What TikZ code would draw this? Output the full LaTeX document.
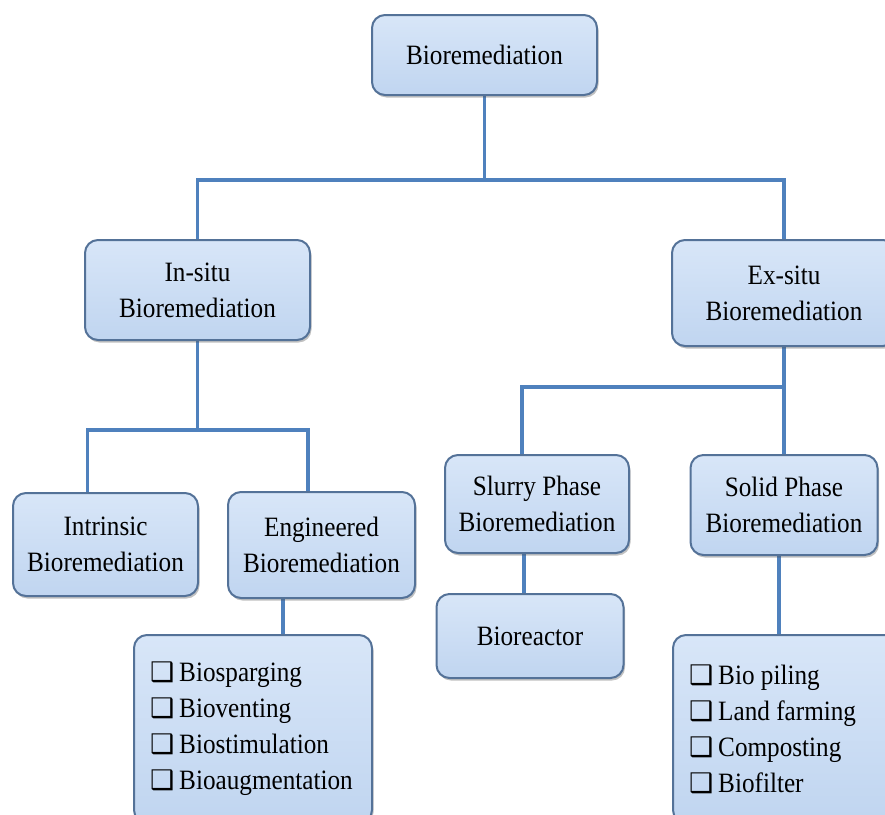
\documentclass[tikz,border=0pt]{standalone}
\usepackage{fontspec}
\setmainfont{Liberation Serif}[FakeStretch=0.9]
\newfontfamily\dingfont{DejaVu Sans}
\usetikzlibrary{positioning,backgrounds,shadows}
\definecolor{boxfill}{RGB}{192,213,240}
\definecolor{boxtop}{RGB}{216,230,248}
\definecolor{boxedge}{RGB}{84,114,152}
\definecolor{connblue}{RGB}{79,129,189}
\newcommand{\tickbox}{{\dingfont\fontsize{27}{36}\selectfont\char"2751}\hspace{5pt}}
\tikzset{
  box/.style={draw=boxedge, line width=2pt, rounded corners=13pt,
              top color=boxtop, bottom color=boxfill, align=center,
              font=\fontsize{28}{36}\selectfont, inner sep=4pt,
              drop shadow={shadow xshift=1.5pt, shadow yshift=-2.5pt,
                           opacity=0.35, fill=black!70}},
  listbox/.style={box, align=flush left, inner xsep=16pt},
  conn/.style={draw=connblue, line width=3.5pt},
}

\begin{document}
\begin{tikzpicture}[x=1pt, y=-1pt]
\useasboundingbox (0,0) rectangle (885,814);
\clip (0,0) rectangle (885,814);

% ---------------- top level ----------------
\node[box, minimum width=225pt, minimum height=80pt] (root) at (484.5,55) {Bioremediation};

\node[box, minimum width=225pt, minimum height=100pt] (insitu) at (197.5,290)
  {In-situ\\Bioremediation};
\node[box, minimum width=224pt, minimum height=106pt] (exsitu) at (784,293)
  {Ex-situ\\Bioremediation};

% ---------------- in-situ branch ----------------
\node[box, minimum width=185pt, minimum height=103pt] (intrinsic) at (105.5,544.5)
  {Intrinsic\\Bioremediation};
\node[box, minimum width=187pt, minimum height=106pt] (engineered) at (321.5,545)
  {Engineered\\Bioremediation};
\node[listbox, text width=206pt, minimum width=238pt, minimum height=188pt] (englist) at (253,729)
  {\tickbox Biosparging\\
   \tickbox Bioventing\\
   \tickbox Biostimulation\\
   \tickbox Bioaugmentation};

% ---------------- ex-situ branch ----------------
\node[box, minimum width=184pt, minimum height=98pt] (slurry) at (537,504)
  {Slurry Phase\\Bioremediation};
\node[box, minimum width=187pt, minimum height=100pt] (solid) at (784,505)
  {Solid Phase\\Bioremediation};
\node[box, minimum width=187pt, minimum height=84pt] (reactor) at (530,636) {Bioreactor};
\node[listbox, text width=194pt, minimum width=226pt, minimum height=188pt] (solidlist) at (786,729)
  {\tickbox Bio piling\\
   \tickbox Land farming\\
   \tickbox Composting\\
   \tickbox Biofilter};

% ---------------- connectors ----------------
\coordinate (topbus) at (484.5,180);
\coordinate (inbus) at (197.5,430);
\coordinate (exbus) at (784,387);
\begin{scope}[on background layer]
  \draw[conn] (root.south) -- (topbus);
  \draw[conn] (insitu.north) |- (topbus) -| (exsitu.north);
  \draw[conn] (insitu.south) -- (inbus);
  \draw[conn] ([xshift=-18pt]intrinsic.north) |- (inbus) -| ([xshift=-13.5pt]engineered.north);
  \draw[conn] ([xshift=-38.5pt]engineered.south) -- ([xshift=30pt]englist.north);
  \draw[conn] (exsitu.south) -- (solid.north);
  \draw[conn] ([xshift=-15pt]slurry.north) |- (exbus);
  \draw[conn] ([xshift=-13pt]slurry.south) -- ([xshift=-6pt]reactor.north);
  \draw[conn] ([xshift=-5pt]solid.south) -- ([xshift=-7pt]solidlist.north);
\end{scope}
\end{tikzpicture}
\end{document}
